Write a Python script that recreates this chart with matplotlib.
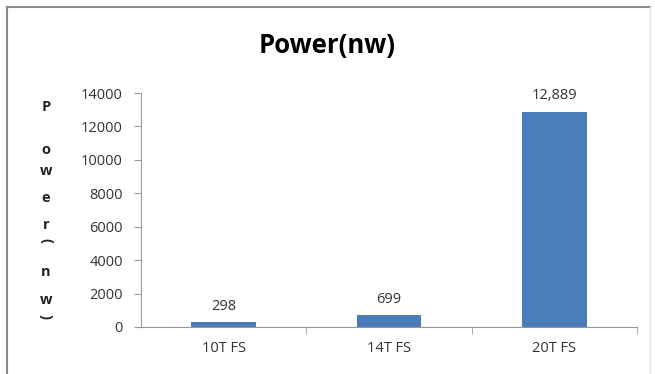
import numpy as np
import matplotlib.pyplot as plt
from matplotlib.lines import Line2D

# chart data
categories = ['10T FS', '14T FS', '20T FS']
power_nw = [298, 699, 12889]
y_ticks = [0, 2000, 4000, 6000, 8000, 10000, 12000, 14000]
ylabel_chars = ['P', 'o', 'w', 'e', 'r', '(', 'n', 'w', ')']

W, H = 655, 374
fig = plt.figure(figsize=(W / 100, H / 100), dpi=100)
plt.rcParams['font.family'] = ['Open Sans', 'DejaVu Sans']

# outer chart frame (left/top strong, right faint)
fig.lines.append(Line2D([7 / W, 7 / W], [0, 1 - 7 / H], transform=fig.transFigure,
                        color='#8a8a8a', linewidth=1.5))
fig.lines.append(Line2D([7 / W, 650 / W], [1 - 7 / H, 1 - 7 / H], transform=fig.transFigure,
                        color='#8a8a8a', linewidth=1.5))
fig.lines.append(Line2D([650 / W, 650 / W], [0, 1 - 7 / H], transform=fig.transFigure,
                        color='#e6e6e6', linewidth=1.0))

ax = fig.add_axes([141 / W, 1 - 327 / H, (637 - 141) / W, (327 - 93) / H])
x = np.arange(len(categories))
bars = ax.bar(x, power_nw, width=0.39, color='#4a7ebb')

for b, v in zip(bars, power_nw):
    ax.annotate(f'{v:,}', (b.get_x() + b.get_width() / 2, v),
                xytext=(0, 6), textcoords='offset points',
                ha='center', va='bottom', fontsize=10.5, color='#333333')

ax.set_xlim(-0.5, 2.5)
ax.set_ylim(0, 14000)
ax.set_yticks(y_ticks)
ax.set_yticklabels([str(t) for t in y_ticks], fontsize=10.5, color='#333333')
ax.set_xticks(x)
ax.set_xticklabels(categories, fontsize=10.5, color='#333333')
ax.tick_params(axis='x', length=0, pad=10)
ax.set_xticks([0.5, 1.5, 2.5], minor=True)
ax.tick_params(axis='x', which='minor', length=5, color='#999999')
ax.tick_params(axis='y', length=5, color='#999999', pad=8)

for s in ['top', 'right']:
    ax.spines[s].set_visible(False)
for s in ['left', 'bottom']:
    ax.spines[s].set_color('#999999')

fig.text(0.5, 1 - 46 / H, 'Power(nw)', ha='center', va='center',
         fontsize=18.5, fontweight='bold')

# stacked vertical axis title
ys = [107, 150, 171, 198, 225, 240, 272, 300, 316]
for ch, yy in zip(ylabel_chars, ys):
    rot = -90 if ch in '()' else 0
    fig.text(46 / W, 1 - yy / H, ch, ha='center', va='center',
             fontsize=10.5, fontweight='bold', rotation=rot, color='#222222')

plt.savefig('out.png', dpi=100)
